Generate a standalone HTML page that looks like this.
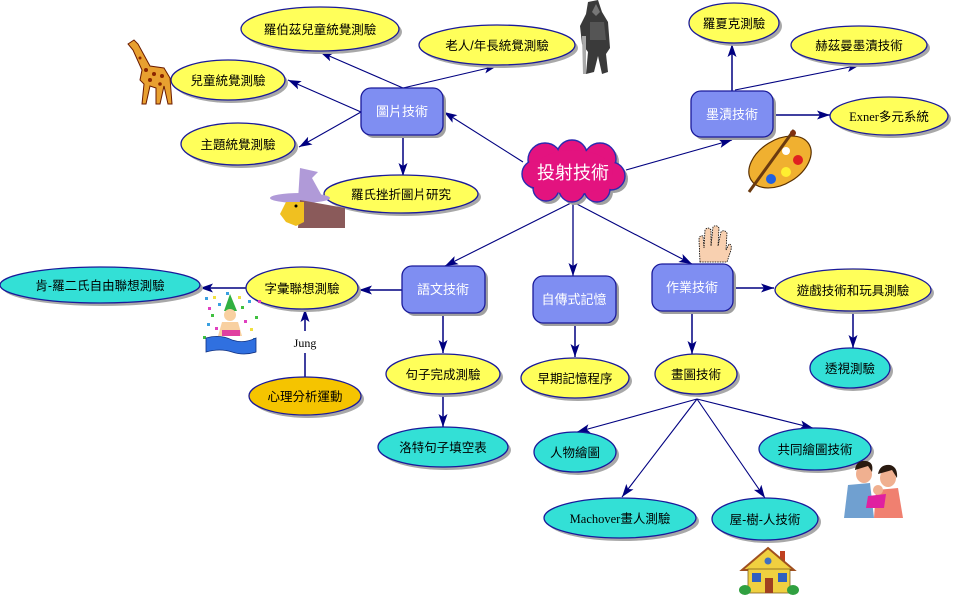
<!DOCTYPE html>
<html><head><meta charset="utf-8"><style>
html,body{margin:0;padding:0;background:#fff;}
svg{display:block;}
text{font-family:"Liberation Sans","Noto Sans CJK TC",sans-serif;font-size:12.5px;fill:#000;}
.w{fill:#fff;font-size:13px;}
</style></head><body>
<svg width="953" height="613" viewBox="0 0 953 613" xmlns="http://www.w3.org/2000/svg">
<defs>
<marker id="a" markerUnits="userSpaceOnUse" markerWidth="14" markerHeight="10" refX="13" refY="5" orient="auto">
<path d="M0,0.5 L13,5 L0,9.5 L3,5 z" fill="#000080"/>
</marker>
</defs>

<!-- connectors -->
<g stroke="#000080" stroke-width="1.1" fill="none" marker-end="url(#a)">
<line x1="523" y1="162" x2="444" y2="112"/>
<line x1="403" y1="88" x2="320" y2="52"/>
<line x1="403" y1="88" x2="497" y2="66"/>
<line x1="361" y1="112" x2="288" y2="80"/>
<line x1="361" y1="112" x2="299" y2="147"/>
<line x1="403" y1="135" x2="403" y2="176" stroke-width="1.5"/>
<line x1="626" y1="170" x2="732" y2="140"/>
<line x1="732" y1="91" x2="732" y2="44" stroke-width="1.5"/>
<line x1="735" y1="90" x2="860" y2="65"/>
<line x1="773" y1="115" x2="830" y2="115" stroke-width="1.5"/>
<line x1="573" y1="202" x2="445" y2="266"/>
<line x1="573" y1="202" x2="573" y2="276" stroke-width="1.3"/>
<line x1="573" y1="202" x2="692" y2="264"/>
<line x1="402" y1="290" x2="359" y2="290" stroke-width="1.5"/>
<line x1="247" y1="288" x2="200" y2="288" stroke-width="1.5"/>
<line x1="305" y1="331" x2="305" y2="309" stroke-width="1.5"/>
<line x1="443" y1="313" x2="443" y2="353" stroke-width="1.5"/>
<line x1="443" y1="393" x2="443" y2="427" stroke-width="1.5"/>
<line x1="575" y1="323" x2="575" y2="357" stroke-width="1.5"/>
<line x1="692" y1="311" x2="692" y2="354" stroke-width="1.5"/>
<line x1="733" y1="288" x2="774" y2="288" stroke-width="1.5"/>
<line x1="853" y1="312" x2="853" y2="348" stroke-width="1.5"/>
<line x1="697" y1="399" x2="577" y2="432"/>
<line x1="697" y1="399" x2="622" y2="497"/>
<line x1="697" y1="399" x2="765" y2="498"/>
<line x1="697" y1="399" x2="813" y2="428"/>
</g>
<line x1="305" y1="377" x2="305" y2="353" stroke="#000080" stroke-width="1.5"/>
<text x="305" y="347" text-anchor="middle" style="font-family:'Liberation Serif',serif;font-size:12px;">Jung</text>

<!-- cloud -->
<g fill="#a0a0a0" transform="translate(3,3)">
<circle cx="545" cy="160" r="17"/><circle cx="572" cy="155" r="15"/><circle cx="600" cy="159" r="16"/>
<circle cx="611" cy="176" r="14"/><circle cx="597" cy="189" r="13"/><circle cx="572" cy="189" r="13"/>
<circle cx="546" cy="188" r="13"/><circle cx="536" cy="174" r="14"/><ellipse cx="573" cy="172" rx="40" ry="22"/>
</g>
<g fill="#e3137f" stroke="#2a2ab0" stroke-width="1.4">
<circle cx="545" cy="160" r="17"/><circle cx="572" cy="155" r="15"/><circle cx="600" cy="159" r="16"/>
<circle cx="611" cy="176" r="14"/><circle cx="597" cy="189" r="13"/><circle cx="572" cy="189" r="13"/>
<circle cx="546" cy="188" r="13"/><circle cx="536" cy="174" r="14"/>
</g>
<g fill="#e3137f">
<circle cx="545" cy="160" r="16"/><circle cx="572" cy="155" r="14"/><circle cx="600" cy="159" r="15"/>
<circle cx="611" cy="176" r="13"/><circle cx="597" cy="189" r="12"/><circle cx="572" cy="189" r="12"/>
<circle cx="546" cy="188" r="12"/><circle cx="536" cy="174" r="13"/><ellipse cx="573" cy="172" rx="40" ry="22"/>
</g>
<text x="573" y="179" text-anchor="middle" style="fill:#fff;font-size:18px;">投射技術</text>

<!-- rectangles -->
<g>
<rect x="364" y="91" width="82" height="47" rx="10" fill="#a0a0a0"/>
<rect x="361" y="88" width="82" height="47" rx="10" fill="#7f8ef2" stroke="#1a1a9a" stroke-width="1.3"/>
<text class="w" x="402" y="116" text-anchor="middle">圖片技術</text>

<rect x="694" y="94" width="82" height="46" rx="10" fill="#a0a0a0"/>
<rect x="691" y="91" width="82" height="46" rx="10" fill="#7f8ef2" stroke="#1a1a9a" stroke-width="1.3"/>
<text class="w" x="732" y="119" text-anchor="middle">墨漬技術</text>

<rect x="405" y="269" width="83" height="47" rx="10" fill="#a0a0a0"/>
<rect x="402" y="266" width="83" height="47" rx="10" fill="#7f8ef2" stroke="#1a1a9a" stroke-width="1.3"/>
<text class="w" x="443" y="294" text-anchor="middle">語文技術</text>

<rect x="536" y="279" width="83" height="47" rx="10" fill="#a0a0a0"/>
<rect x="533" y="276" width="83" height="47" rx="10" fill="#7f8ef2" stroke="#1a1a9a" stroke-width="1.3"/>
<text class="w" x="574" y="304" text-anchor="middle">自傳式記憶</text>

<rect x="655" y="267" width="81" height="47" rx="10" fill="#a0a0a0"/>
<rect x="652" y="264" width="81" height="47" rx="10" fill="#7f8ef2" stroke="#1a1a9a" stroke-width="1.3"/>
<text class="w" x="692" y="292" text-anchor="middle">作業技術</text>
</g>

<!-- ellipses: shadows -->
<g fill="#a8a8a8">
<ellipse cx="323" cy="32" rx="79" ry="22"/>
<ellipse cx="231" cy="83" rx="57" ry="20"/>
<ellipse cx="241" cy="147" rx="57" ry="21"/>
<ellipse cx="404" cy="197" rx="77" ry="19"/>
<ellipse cx="500" cy="48" rx="78" ry="20"/>
<ellipse cx="737" cy="26" rx="45" ry="20"/>
<ellipse cx="862" cy="48" rx="68" ry="19"/>
<ellipse cx="892" cy="119" rx="59" ry="19"/>
<ellipse cx="305" cy="291" rx="56" ry="21"/>
<ellipse cx="103" cy="288" rx="100" ry="18"/>
<ellipse cx="308" cy="399" rx="56" ry="19"/>
<ellipse cx="446" cy="377" rx="57" ry="20"/>
<ellipse cx="446" cy="450" rx="65" ry="20"/>
<ellipse cx="578" cy="381" rx="54" ry="20"/>
<ellipse cx="578" cy="455" rx="41" ry="20"/>
<ellipse cx="699" cy="377" rx="41" ry="20"/>
<ellipse cx="856" cy="293" rx="78" ry="21"/>
<ellipse cx="853" cy="371" rx="40" ry="20"/>
<ellipse cx="818" cy="452" rx="56" ry="21"/>
<ellipse cx="623" cy="521" rx="76" ry="20"/>
<ellipse cx="768" cy="522" rx="53" ry="21"/>
</g>
<g stroke="#1a1a9a" stroke-width="1.3">
<ellipse cx="320" cy="29" rx="79" ry="22" fill="#ffff5a"/>
<ellipse cx="228" cy="80" rx="57" ry="20" fill="#ffff5a"/>
<ellipse cx="238" cy="144" rx="57" ry="21" fill="#ffff5a"/>
<ellipse cx="401" cy="194" rx="77" ry="19" fill="#ffff5a"/>
<ellipse cx="497" cy="45" rx="78" ry="20" fill="#ffff5a"/>
<ellipse cx="734" cy="23" rx="45" ry="20" fill="#ffff5a"/>
<ellipse cx="859" cy="45" rx="68" ry="19" fill="#ffff5a"/>
<ellipse cx="889" cy="116" rx="59" ry="19" fill="#ffff5a"/>
<ellipse cx="302" cy="288" rx="56" ry="21" fill="#ffff5a"/>
<ellipse cx="100" cy="285" rx="100" ry="18" fill="#33e0d6"/>
<ellipse cx="305" cy="396" rx="56" ry="19" fill="#f5c400"/>
<ellipse cx="443" cy="374" rx="57" ry="20" fill="#ffff5a"/>
<ellipse cx="443" cy="447" rx="65" ry="20" fill="#33e0d6"/>
<ellipse cx="575" cy="378" rx="54" ry="20" fill="#ffff5a"/>
<ellipse cx="575" cy="452" rx="41" ry="20" fill="#33e0d6"/>
<ellipse cx="696" cy="374" rx="41" ry="20" fill="#ffff5a"/>
<ellipse cx="853" cy="290" rx="78" ry="21" fill="#ffff5a"/>
<ellipse cx="850" cy="368" rx="40" ry="20" fill="#33e0d6"/>
<ellipse cx="815" cy="449" rx="56" ry="21" fill="#33e0d6"/>
<ellipse cx="620" cy="518" rx="76" ry="20" fill="#33e0d6"/>
<ellipse cx="765" cy="519" rx="53" ry="21" fill="#33e0d6"/>
</g>
<g text-anchor="middle">
<text x="320" y="34">羅伯茲兒童統覺測驗</text>
<text x="228" y="85">兒童統覺測驗</text>
<text x="238" y="149">主題統覺測驗</text>
<text x="401" y="199">羅氏挫折圖片研究</text>
<text x="497" y="50">老人/年長統覺測驗</text>
<text x="734" y="28">羅夏克測驗</text>
<text x="859" y="50">赫茲曼墨漬技術</text>
<text x="889" y="121"><tspan style="font-family:'Liberation Serif',serif;">Exner</tspan>多元系統</text>
<text x="302" y="293">字彙聯想測驗</text>
<text x="100" y="290">肯-羅二氏自由聯想測驗</text>
<text x="305" y="401">心理分析運動</text>
<text x="443" y="379">句子完成測驗</text>
<text x="443" y="452">洛特句子填空表</text>
<text x="575" y="383">早期記憶程序</text>
<text x="575" y="457">人物繪圖</text>
<text x="696" y="379">畫圖技術</text>
<text x="853" y="295">遊戲技術和玩具測驗</text>
<text x="850" y="373">透視測驗</text>
<text x="815" y="454">共同繪圖技術</text>
<text x="620" y="523"><tspan style="font-family:'Liberation Serif',serif;">Machover</tspan>畫人測驗</text>
<text x="765" y="524">屋-樹-人技術</text>
</g>

<!-- giraffe -->
<g>
<path d="M128,44 L134,40 L138,44 L150,66 L164,68 L170,78 L172,104 L168,104 L164,86 L160,104 L156,104 L156,88 L150,86 L146,104 L142,104 L144,84 L140,80 L142,70 L133,50 Z" fill="#e8a030" stroke="#6a1a00" stroke-width="1"/>
<g fill="#8b2500"><circle cx="140" cy="58" r="1.5"/><circle cx="146" cy="70" r="2"/><circle cx="154" cy="74" r="2"/><circle cx="162" cy="76" r="2"/><circle cx="150" cy="80" r="2"/><circle cx="160" cy="84" r="1.8"/></g>
</g>

<!-- knight -->
<g>
<path d="M588,2 L598,0 L602,12 L608,22 L610,48 L606,54 L608,72 L602,74 L598,56 L594,72 L586,74 L588,52 L582,44 L580,26 L586,14 Z" fill="#3a3a3a"/>
<path d="M596,4 L600,12 L596,16 L592,12 Z" fill="#777"/>
<path d="M582,36 L586,36 L586,74 L583,74 Z" fill="#aaa"/>
<path d="M590,22 L604,22 L606,40 L590,40 Z" fill="#555"/>
</g>

<!-- witch -->
<g>
<path d="M300,168 L318,172 L312,178 L322,196 L298,200 Z" fill="#b09ad8"/>
<ellipse cx="300" cy="198" rx="30" ry="5" fill="#b09ad8"/>
<path d="M300,200 L345,208 L345,228 L298,228 Z" fill="#8a5a5a"/>
<path d="M286,202 L304,202 L304,222 L296,226 L286,222 L280,214 Z" fill="#f0c020"/>
<circle cx="296" cy="206" r="1.5" fill="#000"/>
</g>

<!-- palette -->
<g>
<ellipse cx="780" cy="162" rx="34" ry="22" transform="rotate(-32 780 162)" fill="#f0b030" stroke="#5a3000" stroke-width="1.2"/>
<circle cx="786" cy="151" r="4" fill="#fff"/>
<circle cx="798" cy="160" r="5" fill="#e02020"/>
<circle cx="786" cy="172" r="5" fill="#ffee30"/>
<circle cx="771" cy="179" r="5" fill="#2060e0"/>
<line x1="794" y1="130" x2="749" y2="192" stroke="#6a3a10" stroke-width="3"/>
<circle cx="793" cy="133" r="3" fill="#803010"/>
</g>

<!-- party kid -->
<g>
<g fill="#3aa0e0"><rect x="205" y="297" width="3" height="3"/><rect x="218" y="303" width="3" height="3"/><rect x="248" y="300" width="3" height="3"/><rect x="207" y="323" width="3" height="3"/><rect x="253" y="338" width="3" height="3"/><rect x="226" y="292" width="3" height="3"/></g>
<g fill="#40c040"><rect x="211" y="314" width="3" height="3"/><rect x="241" y="306" width="3" height="3"/><rect x="255" y="316" width="3" height="3"/><rect x="203" y="336" width="3" height="3"/></g>
<g fill="#e040c0"><rect x="215" y="327" width="3" height="3"/><rect x="244" y="320" width="3" height="3"/><rect x="208" y="307" width="3" height="3"/><rect x="258" y="300" width="3" height="3"/></g>
<g fill="#f0e040"><rect x="250" y="328" width="3" height="3"/><rect x="213" y="296" width="3" height="3"/><rect x="238" y="296" width="3" height="3"/></g>
<path d="M230,294 L224,311 L237,311 Z" fill="#30b040"/>
<circle cx="230" cy="315" r="6" fill="#f8d0a0"/>
<path d="M222,322 L238,322 L242,336 L218,336 Z" fill="#f8d0a0"/>
<rect x="222" y="330" width="18" height="6" fill="#e040a0"/>
<path d="M206,338 Q220,334 232,340 Q244,344 256,338 L256,352 Q244,356 232,352 Q220,348 206,352 Z" fill="#3070e0" stroke="#103080" stroke-width="0.8"/>
</g>

<!-- hand -->
<g>
<path d="M700,262 L699,240 Q699,235 703,236 L704,248 L705,230 Q708,226 711,230 L711,246 L713,227 Q716,224 719,228 L718,246 L721,232 Q724,229 727,233 L726,250 L729,244 Q732,244 731,250 L727,262 Z" fill="#f8d0b0" stroke="#000" stroke-width="0.8" stroke-dasharray="1.5,1"/>
</g>

<!-- family -->
<g>
<ellipse cx="864" cy="474" rx="8" ry="9" fill="#f0b090"/>
<path d="M855,470 Q856,460 866,461 Q874,462 872,472 L868,466 Z" fill="#2a1a10"/>
<path d="M848,485 L870,483 L874,518 L844,518 Z" fill="#70a0d0"/>
<ellipse cx="888" cy="478" rx="8" ry="9" fill="#f0b090"/>
<path d="M878,474 Q880,464 890,465 Q898,467 897,478 L892,470 Z" fill="#2a1a10"/>
<path d="M876,490 L898,488 L903,518 L874,518 Z" fill="#f08070"/>
<circle cx="878" cy="490" r="5" fill="#f0b090"/>
<path d="M868,496 L886,494 L884,508 L866,508 Z" fill="#e020a0"/>
</g>

<!-- house -->
<g>
<rect x="780" y="551" width="5" height="10" fill="#c04020"/>
<path d="M768,548 L794,570 L742,570 Z" fill="#f0d040" stroke="#a05020" stroke-width="2"/>
<circle cx="768" cy="561" r="3.5" fill="#4070c0"/>
<rect x="748" y="569" width="42" height="24" fill="#f0d040" stroke="#806020" stroke-width="0.8"/>
<rect x="752" y="573" width="9" height="9" fill="#3060c0"/>
<rect x="778" y="573" width="9" height="9" fill="#3060c0"/>
<rect x="765" y="578" width="8" height="15" fill="#a04020"/>
<ellipse cx="745" cy="590" rx="6" ry="5" fill="#30a040"/>
<ellipse cx="793" cy="590" rx="6" ry="5" fill="#30a040"/>
</g>
</svg>
</body></html>
